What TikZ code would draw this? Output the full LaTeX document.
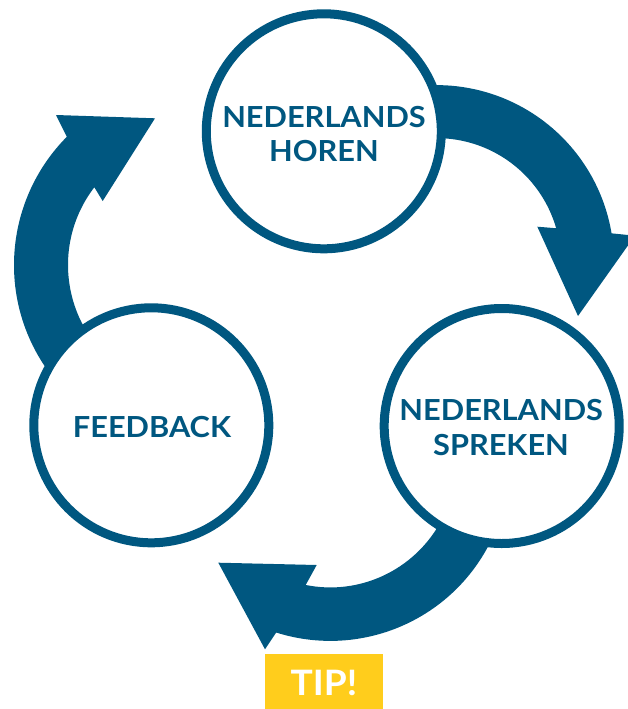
\documentclass[tikz,border=0pt]{standalone}
\usepackage{fontspec}
\setmainfont{Lato}
\newfontfamily\labelfont{Lato}[FakeStretch=1.06]
\usetikzlibrary{calc}
\definecolor{dblue}{HTML}{005780}
\definecolor{tipyellow}{HTML}{FFCD1C}
\begin{document}
\begin{tikzpicture}[x=1pt,y=-1pt,
  bubble/.style={circle, draw=dblue, line width=9pt, fill=white, minimum size=235pt, inner sep=0pt},
  bubbletext/.style={text=dblue, font=\labelfont\fontsize{29}{34}\selectfont\bfseries, anchor=base, inner sep=0pt},
  band/.style={fill=dblue},
  tipbox/.style={fill=tipyellow, text=white, font=\labelfont\fontsize{35}{40}\selectfont\bfseries, minimum width=118pt, minimum height=58pt, inner sep=0pt, anchor=north}]
\useasboundingbox (0,0) rectangle (627,709);
\coordinate (c1) at (436.5,262.6);
\coordinate (c2) at (330.3,461.9);
\coordinate (c3) at (196,265);
% arrow: horen -> spreken
\fill[band] ($(c1)+(-115:177.5)$) arc[start angle=-115, end angle=-9.49, radius=177.5]
  -- (634.9,235.7) -- (578,316) -- (537.3,226.7)
  -- ($(c1)+(-16.02:124.5)$) arc[start angle=-16.02, end angle=-115, radius=124.5] -- cycle;
% arrow: spreken -> feedback
\fill[band] ($(c2)+(-25:179)$) arc[start angle=-25, end angle=107.6, radius=179]
  -- (265,649.3) -- (218.3,562.7) -- (316.7,565)
  -- ($(c2)+(101.3:125.5)$) arc[start angle=101.3, end angle=-25, radius=125.5] -- cycle;
% arrow: feedback -> horen
\fill[band] ($(c3)+(95:182)$) arc[start angle=95, end angle=224.8, radius=182]
  -- (56,115) -- (155,118.3) -- (102.7,201)
  -- ($(c3)+(217.4:128)$) arc[start angle=217.4, end angle=95, radius=128] -- cycle;
% circles
\node[bubble] (horen) at (323.8,131.3) {};
\node[bubble] (spreken) at (501.7,426) {};
\node[bubble] (feedback) at (151.3,425.3) {};
% texts
\node[bubbletext] (horen1) at (324,127.7) {NEDERLANDS};
\node[bubbletext] (horen2) at (324,161) {HOREN};
\node[bubbletext] (spreken1) at (501.2,420.7) {NEDERLANDS};
\node[bubbletext] (spreken2) at (501,455.7) {SPREKEN};
\node[bubbletext] (fb) at (152,437.7) {FEEDBACK};
\node[tipbox] (tip) at (324,654) {TIP!};
\end{tikzpicture}
\end{document}
